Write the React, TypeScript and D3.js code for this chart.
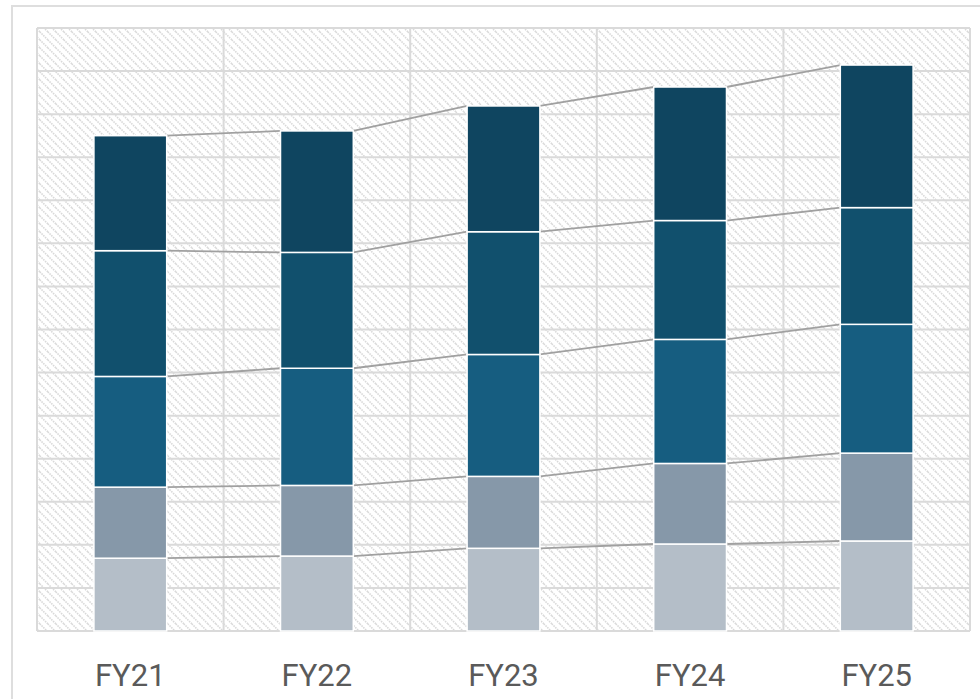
import React, { useEffect, useRef } from 'react';
import * as d3 from 'd3';

// categories and stacked series (bottom to top)
const categories = ['FY21', 'FY22', 'FY23', 'FY24', 'FY25'];
const seriesNames = ['s1', 's2', 's3', 's4', 's5'];
const s1 = [1.69, 1.74, 1.92, 2.02, 2.09];
const s2 = [1.65, 1.64, 1.67, 1.87, 2.04];
const s3 = [2.57, 2.72, 2.83, 2.88, 2.99];
const s4 = [2.92, 2.69, 2.85, 2.76, 2.71];
const s5 = [2.67, 2.82, 2.92, 3.1, 3.31];
const yTicks = d3.range(0, 15);
const colors = ['#b4bec8', '#8698a9', '#165d80', '#11506d', '#0f4560'];

export default function App() {
    const ref = useRef<SVGSVGElement>(null);

    useEffect(() => {
        const svg = d3.select(ref.current);
        svg.selectAll('*').remove();

        const left = 37, right = 970, top = 28, bottom = 631;

        const rows = categories.map((c, i) => ({
            cat: c, s1: s1[i], s2: s2[i], s3: s3[i], s4: s4[i], s5: s5[i],
        }));
        const stacked = d3.stack<any>().keys(seriesNames)(rows);

        const x = d3.scaleBand().domain(categories).range([left, right]).padding(0);
        const y = d3.scaleLinear().domain([0, 14]).range([bottom, top]);
        const barW = x.bandwidth() * 0.39;
        const bx = (c: string) => (x(c) as number) + (x.bandwidth() - barW) / 2;

        // hatch pattern
        const defs = svg.append('defs');
        const pat = defs.append('pattern')
            .attr('id', 'hatch')
            .attr('patternUnits', 'userSpaceOnUse')
            .attr('width', 8).attr('height', 8);
        pat.append('rect').attr('width', 8).attr('height', 8).attr('fill', '#fff');
        pat.append('path')
            .attr('d', 'M-2,-2 L10,10 M-2,6 L2,10 M6,-2 L10,2')
            .attr('stroke', '#d9d9d9')
            .attr('stroke-width', 1.6)
            .attr('stroke-dasharray', '1.5,1');

        // outer frame
        svg.append('rect')
            .attr('x', 12).attr('y', 6).attr('width', 1000).attr('height', 720)
            .attr('fill', '#fff').attr('stroke', '#dedede').attr('stroke-width', 2);

        // plot background
        svg.append('rect')
            .attr('x', left).attr('y', top).attr('width', right - left).attr('height', bottom - top)
            .attr('fill', 'url(#hatch)');

        // gridlines
        svg.append('g').selectAll('line.h')
            .data(yTicks)
            .enter().append('line')
            .attr('x1', left).attr('x2', right)
            .attr('y1', d => y(d)).attr('y2', d => y(d))
            .attr('stroke', '#dadada').attr('stroke-width', 2);

        const edges = categories.map(c => x(c) as number).concat([right]);
        svg.append('g').selectAll('line.v')
            .data(edges)
            .enter().append('line')
            .attr('x1', d => d).attr('x2', d => d)
            .attr('y1', top).attr('y2', bottom)
            .attr('stroke', '#dadada').attr('stroke-width', 2);

        // connector lines between tops of matching segments
        const conn = svg.append('g');
        stacked.forEach(layer => {
            for (let i = 0; i < layer.length - 1; i++) {
                conn.append('line')
                    .attr('x1', bx(categories[i]) + barW)
                    .attr('y1', y(layer[i][1]))
                    .attr('x2', bx(categories[i + 1]))
                    .attr('y2', y(layer[i + 1][1]))
                    .attr('stroke', '#a0a0a0')
                    .attr('stroke-width', 1.8);
            }
        });

        // bars
        svg.append('g').selectAll('g')
            .data(stacked)
            .enter().append('g')
            .attr('fill', (d, i) => colors[i])
            .selectAll('rect')
            .data(d => d)
            .enter().append('rect')
            .attr('x', (d: any) => bx(d.data.cat))
            .attr('y', d => y(d[1]))
            .attr('width', barW)
            .attr('height', d => y(d[0]) - y(d[1]))
            .attr('stroke', '#fff')
            .attr('stroke-width', 1.5);

        // category labels
        svg.append('g').selectAll('text')
            .data(categories)
            .enter().append('text')
            .attr('x', d => (x(d) as number) + x.bandwidth() / 2)
            .attr('y', 686)
            .attr('text-anchor', 'middle')
            .attr('font-family', 'Roboto, sans-serif')
            .attr('font-size', 31)
            .attr('fill', '#5a5a5a')
            .text(d => d);
    }, []);

    return (
        <svg ref={ref} width={980} height={699}
            style={{ position: 'absolute', left: 0, top: 0, background: '#fff' }} />
    );
}
